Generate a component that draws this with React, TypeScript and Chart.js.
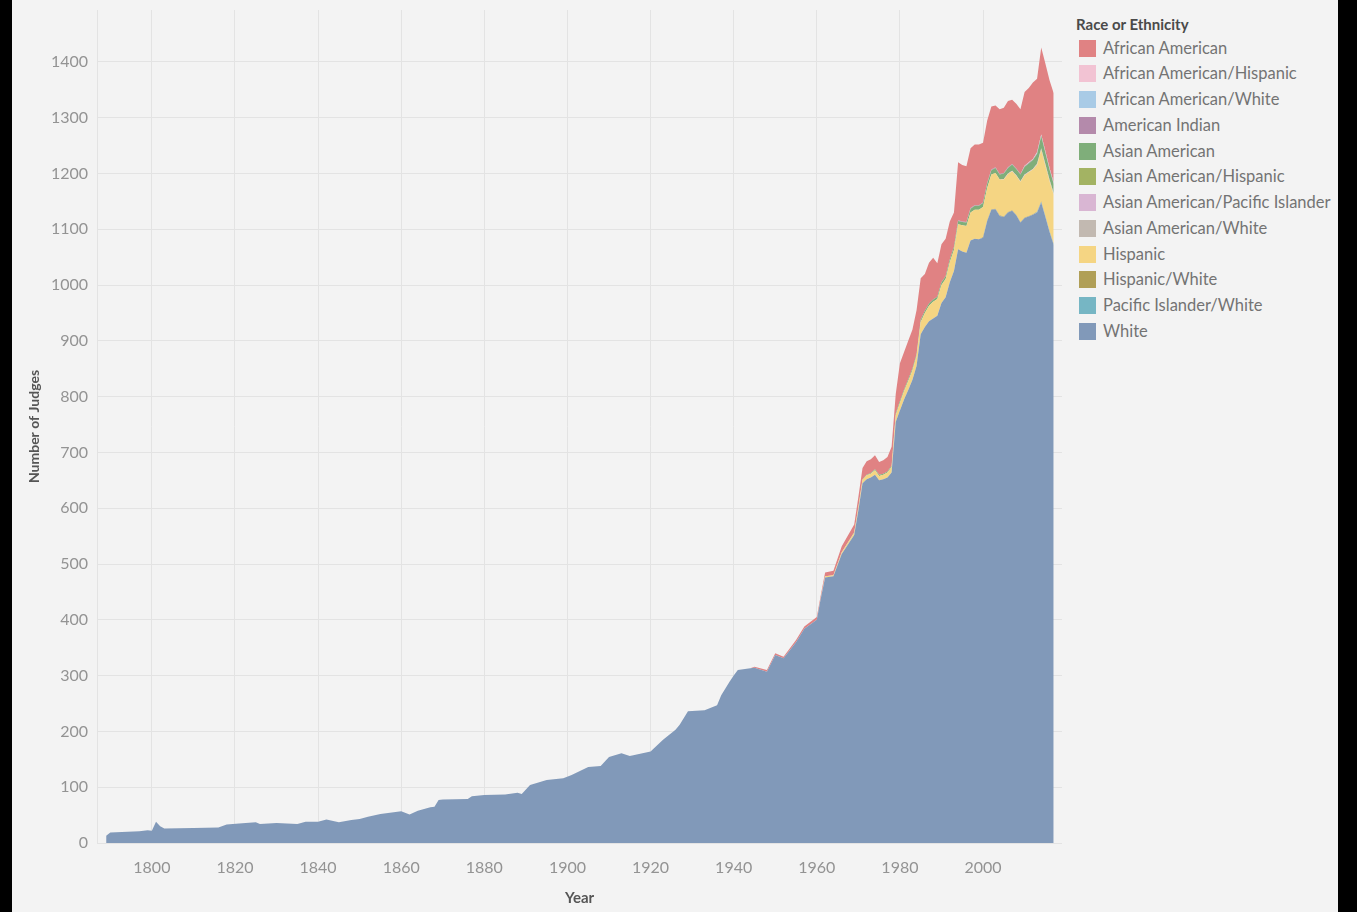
import React, { useEffect, useRef } from "react";
import { Chart, registerables } from "chart.js";

Chart.register(...registerables);

// ---- DATA ----
// White judges, [year, count]; these years define the x positions for every layer
const whiteByYear: [number, number][] = [
  [1789, 13], [1790, 19], [1797, 21], [1799, 23], [1800, 22], [1801, 38], [1802, 30], [1803, 26],
  [1810, 27], [1816, 28], [1818, 33], [1821, 35], [1825, 37], [1826, 34], [1830, 36], [1835, 34],
  [1837, 38], [1840, 38], [1842, 42], [1845, 37], [1848, 41], [1850, 43], [1852, 47], [1855, 52],
  [1860, 57], [1862, 51], [1864, 58], [1867, 64], [1868, 65], [1869, 77], [1870, 78], [1876, 79],
  [1877, 84], [1880, 86], [1885, 87], [1888, 90], [1889, 88], [1891, 104], [1895, 113], [1899, 116],
  [1901, 122], [1905, 136], [1908, 138], [1910, 154], [1913, 161], [1915, 156], [1920, 164], [1923, 185],
  [1926, 203], [1927, 212], [1929, 236], [1933, 238], [1936, 247], [1937, 265], [1939, 289], [1940, 300],
  [1941, 310], [1944, 313], [1945, 314], [1948, 307], [1950, 337], [1952, 331], [1955, 360], [1957, 384],
  [1960, 400], [1961, 440], [1962, 476], [1964, 478], [1966, 518], [1969, 552],
  [1970, 596], [1971, 645], [1972, 652], [1973, 655], [1974, 660], [1975, 650], [1976, 652], [1977, 655],
  [1978, 664], [1979, 755], [1980, 775], [1981, 795], [1982, 812], [1983, 830], [1984, 855], [1985, 912],
  [1986, 925], [1987, 935], [1988, 940], [1989, 945], [1990, 968], [1991, 978], [1992, 1005], [1993, 1025],
  [1994, 1064], [1995, 1060], [1996, 1058], [1997, 1080], [1998, 1083], [1999, 1082], [2000, 1085],
  [2001, 1115], [2002, 1135], [2003, 1136], [2004, 1124], [2005, 1122], [2006, 1130], [2007, 1133],
  [2008, 1125], [2009, 1112], [2010, 1120], [2011, 1123], [2012, 1126], [2013, 1130], [2014, 1148],
  [2015, 1122], [2016, 1095], [2017, 1072],
];

const modernYears = [
  1945, 1948, 1950, 1952, 1955, 1957, 1960, 1961, 1962, 1964, 1966, 1969,
  1970, 1971, 1972, 1973, 1974, 1975, 1976, 1977, 1978, 1979,
  1980, 1981, 1982, 1983, 1984, 1985, 1986, 1987, 1988, 1989,
  1990, 1991, 1992, 1993, 1994, 1995, 1996, 1997, 1998, 1999,
  2000, 2001, 2002, 2003, 2004, 2005, 2006, 2007, 2008, 2009,
  2010, 2011, 2012, 2013, 2014, 2015, 2016, 2017,
];
const hispanic = [
  0, 0, 0, 0, 0, 0, 0, 1, 2, 2, 3, 4,
  5, 6, 7, 7, 8, 8, 8, 9, 10, 12,
  14, 15, 16, 17, 18, 22, 25, 28, 30, 30,
  32, 33, 36, 38, 45, 47, 48, 50, 52, 53,
  54, 58, 62, 64, 64, 66, 68, 70, 70, 72,
  76, 78, 80, 83, 92, 90, 89, 88,
];
const asianAmerican = [
  0, 0, 0, 0, 0, 0, 0, 0, 0, 0, 0, 1,
  1, 1, 1, 1, 2, 2, 2, 2, 2, 3,
  3, 3, 3, 3, 3, 4, 4, 4, 4, 4,
  5, 5, 5, 5, 6, 6, 6, 7, 7, 7,
  7, 8, 8, 9, 9, 10, 10, 11, 11, 12,
  14, 15, 16, 17, 22, 20, 18, 16,
];
const africanAmerican = [
  2, 3, 3, 3, 4, 4, 5, 5, 7, 8, 11, 14,
  18, 20, 24, 25, 25, 23, 24, 26, 34, 35,
  68, 67, 69, 70, 79, 74, 66, 73, 75, 60,
  68, 67, 68, 62, 104, 101, 100, 107, 109, 109,
  107, 112, 113, 111, 116, 117, 119, 115, 116, 116,
  132, 133, 137, 132, 156, 157, 157, 160,
];

const recentYears = [
  1994, 1995, 1996, 1997, 1998, 1999, 2000, 2001, 2002, 2003, 2004, 2005,
  2006, 2007, 2008, 2009, 2010, 2011, 2012, 2013, 2014, 2015, 2016, 2017,
];
const americanIndian = [1, 1, 1, 1, 1, 1, 1, 1, 1, 1, 1, 1, 1, 1, 1, 1, 1, 1, 1, 1, 1, 1, 1, 1];
const hispanicWhite = [0, 0, 0, 0, 0, 0, 1, 1, 1, 1, 1, 1, 1, 1, 1, 1, 1, 1, 1, 1, 1, 1, 1, 1];
const asianAmericanPacificIslander = [0, 0, 0, 0, 0, 0, 0, 0, 0, 0, 0, 1, 1, 1, 1, 1, 1, 1, 1, 1, 1, 1, 1, 1];
const africanAmericanHispanic = [0, 0, 0, 0, 0, 0, 0, 0, 0, 0, 0, 0, 0, 0, 0, 0, 1, 1, 1, 1, 1, 1, 1, 1];
const africanAmericanWhite = [0, 0, 0, 0, 0, 0, 0, 0, 0, 0, 0, 0, 0, 0, 0, 0, 0, 0, 0, 1, 1, 1, 1, 1];
const asianAmericanHispanic = [0, 0, 0, 0, 0, 0, 0, 0, 0, 0, 0, 0, 0, 0, 0, 0, 0, 0, 0, 1, 1, 1, 1, 1];
const asianAmericanWhite = [0, 0, 0, 0, 0, 0, 0, 0, 0, 0, 0, 0, 0, 0, 0, 0, 0, 0, 0, 1, 1, 1, 1, 1];
const pacificIslanderWhite = [0, 0, 0, 0, 0, 0, 0, 0, 0, 0, 0, 0, 0, 0, 0, 0, 0, 0, 0, 1, 1, 1, 1, 1];

const yearTicks = [1800, 1820, 1840, 1860, 1880, 1900, 1920, 1940, 1960, 1980, 2000];
const judgeTicks = [0, 100, 200, 300, 400, 500, 600, 700, 800, 900, 1000, 1100, 1200, 1300, 1400];

// legend order (alphabetical, top of stack first)
const legendLabels = [
  "African American",
  "African American/Hispanic",
  "African American/White",
  "American Indian",
  "Asian American",
  "Asian American/Hispanic",
  "Asian American/Pacific Islander",
  "Asian American/White",
  "Hispanic",
  "Hispanic/White",
  "Pacific Islander/White",
  "White",
];
const legendColors = [
  "#e08283",
  "#f2c3d3",
  "#a9cbe6",
  "#b48aab",
  "#7fae7a",
  "#a3b363",
  "#d9b6d3",
  "#c2b9b1",
  "#f5d583",
  "#b09f57",
  "#76b6c4",
  "#8199b9",
];

const FONT = "Lato, 'Open Sans', sans-serif";

const years = whiteByYear.map((p) => p[0]);

function alignSeries(sub: number[], values: number[]) {
  const m = new Map<number, number>();
  sub.forEach((y, i) => m.set(y, values[i]));
  return years.map((y) => ({ x: y, y: m.get(y) ?? 0 }));
}

const seriesByLabel: Record<string, { x: number; y: number }[]> = {
  "White": whiteByYear.map(([x, y]) => ({ x, y })),
  "Pacific Islander/White": alignSeries(recentYears, pacificIslanderWhite),
  "Hispanic/White": alignSeries(recentYears, hispanicWhite),
  "Hispanic": alignSeries(modernYears, hispanic),
  "Asian American/White": alignSeries(recentYears, asianAmericanWhite),
  "Asian American/Pacific Islander": alignSeries(recentYears, asianAmericanPacificIslander),
  "Asian American/Hispanic": alignSeries(recentYears, asianAmericanHispanic),
  "Asian American": alignSeries(modernYears, asianAmerican),
  "American Indian": alignSeries(recentYears, americanIndian),
  "African American/White": alignSeries(recentYears, africanAmericanWhite),
  "African American/Hispanic": alignSeries(recentYears, africanAmericanHispanic),
  "African American": alignSeries(modernYears, africanAmerican),
};

export default function App() {
  const ref = useRef<HTMLCanvasElement | null>(null);

  useEffect(() => {
    document.body.style.margin = "0";
    const stackOrder = [...legendLabels].reverse();
    const datasets = stackOrder.map((label, i) => {
      const color = legendColors[legendLabels.indexOf(label)];
      return {
        label,
        data: seriesByLabel[label],
        backgroundColor: color,
        borderColor: "rgba(0,0,0,0)",
        borderWidth: 0,
        pointRadius: 0,
        pointHitRadius: 0,
        tension: 0,
        fill: i === 0 ? "origin" : "-1",
      };
    });

    const tickFont = { family: FONT, size: 16 };
    const chart = new Chart(ref.current as HTMLCanvasElement, {
      type: "line",
      data: { datasets: datasets as any },
      options: {
        animation: false,
        responsive: false,
        events: [],
        layout: { padding: { top: 10, right: 10, left: 0, bottom: 0 } },
        plugins: {
          legend: { display: false },
          tooltip: { enabled: false },
        },
        scales: {
          x: {
            type: "linear",
            min: 1786.8,
            max: 2019,
            afterBuildTicks: (s: any) => {
              s.ticks = yearTicks.map((v) => ({ value: v }));
            },
            afterFit: (s: any) => {
              s.height = 69;
              s.paddingLeft = 0;
              s.paddingRight = 0;
            },
            grid: { color: "#e3e3e3", drawTicks: false },
            border: { display: false },
            ticks: {
              padding: 15,
              color: "#939393",
              font: tickFont,
              maxRotation: 0,
              callback: (v: any) => String(v),
            },
            title: {
              display: true,
              text: "Year",
              color: "#555555",
              padding: { top: 0, bottom: 5 },
              font: { family: FONT, size: 15, weight: "bold" },
            },
          },
          y: {
            stacked: true,
            min: 0,
            max: 1493,
            afterBuildTicks: (s: any) => {
              s.ticks = judgeTicks.map((v) => ({ value: v }));
            },
            afterFit: (s: any) => {
              s.width = 85;
              s.paddingTop = 0;
              s.paddingBottom = 0;
            },
            grid: { color: "#e3e3e3", drawTicks: false },
            border: { display: true, color: "#e3e3e3" },
            ticks: {
              padding: 9,
              color: "#939393",
              font: tickFont,
              callback: (v: any) => String(v),
            },
            title: {
              display: true,
              text: "Number of Judges",
              color: "#555555",
              padding: { top: 14, bottom: 0 },
              font: { family: FONT, size: 14, weight: "bold" },
            },
          },
        },
      } as any,
    });
    return () => chart.destroy();
  }, []);

  return (
    <div style={{ position: "fixed", left: 0, top: 0, width: 1357, height: 912, background: "#000" }}>
      <div
        style={{
          position: "absolute",
          left: 12,
          top: 0,
          width: 1326,
          height: 912,
          background: "#f3f3f3",
          fontFamily: FONT,
        }}
      >
        <canvas ref={ref} width={1060} height={912} style={{ position: "absolute", left: 0, top: 0 }} />
        <div
          style={{
            position: "absolute",
            left: 1064,
            top: 15,
            fontSize: 15,
            lineHeight: "18px",
            fontWeight: 700,
            color: "#4a4a4a",
            whiteSpace: "nowrap",
          }}
        >
          Race or Ethnicity
        </div>
        {legendLabels.map((label, i) => (
          <div
            key={label}
            style={{
              position: "absolute",
              left: 1067,
              top: 38.5 + i * 25.75,
              height: 19,
              display: "flex",
              alignItems: "center",
              whiteSpace: "nowrap",
            }}
          >
            <div style={{ width: 17, height: 17, background: legendColors[i], marginRight: 7 }} />
            <span style={{ fontSize: 16.5, lineHeight: "19px", color: "#737373" }}>{label}</span>
          </div>
        ))}
      </div>
    </div>
  );
}
